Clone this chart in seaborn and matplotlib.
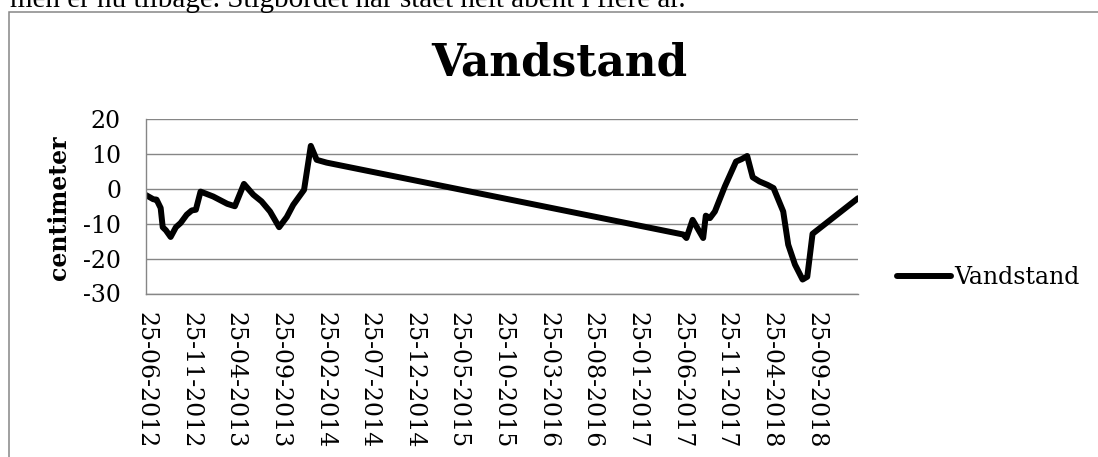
import matplotlib
matplotlib.use("Agg")
import matplotlib.pyplot as plt
from matplotlib.patches import Rectangle
import seaborn as sns
import pandas as pd

# Water level readings (cm)
dates = [
    '25-06-2012', '20-07-2012', '31-07-2012', '14-08-2012', '21-08-2012',
    '01-09-2012', '17-09-2012', '05-10-2012', '21-10-2012', '11-11-2012',
    '28-11-2012', '12-12-2012', '28-12-2012', '09-02-2013', '29-03-2013',
    '24-04-2013', '25-05-2013', '26-06-2013', '24-07-2013', '22-08-2013',
    '22-09-2013', '18-10-2013', '09-11-2013', '16-12-2013', '08-01-2014',
    '28-01-2014', '03-03-2014', '01-07-2017', '12-07-2017', '02-08-2017',
    '07-09-2017', '16-09-2017', '30-09-2017', '17-10-2017', '20-11-2017',
    '28-12-2017', '16-01-2018', '04-02-2018', '23-02-2018', '18-03-2018',
    '15-04-2018', '05-05-2018', '07-06-2018', '24-06-2018', '17-07-2018',
    '12-08-2018', '28-08-2018', '15-09-2018', '17-02-2019',
]
levels = [
    -1.8, -3.0, -3.1, -5.5, -11.0,
    -11.9, -13.8, -11.0, -9.8, -7.4,
    -6.2, -6.0, -0.8, -2.2, -4.3,
    -5.0, 1.4, -1.7, -3.6, -6.5,
    -11.0, -8.1, -4.6, -0.3, 12.3,
    8.3, 7.5, -13.1, -14.1, -8.9,
    -14.1, -7.7, -8.4, -6.5, 0.7,
    7.8, 8.5, 9.4, 3.3, 2.1,
    1.1, 0.2, -6.5, -16.0, -21.7,
    -26.0, -25.2, -12.9, -2.7,
]
tick_labels = [
    '25-06-2012', '25-11-2012', '25-04-2013', '25-09-2013', '25-02-2014',
    '25-07-2014', '25-12-2014', '25-05-2015', '25-10-2015', '25-03-2016',
    '25-08-2016', '25-01-2017', '25-06-2017', '25-11-2017', '25-04-2018',
    '25-09-2018',
]
y_ticks = [-30, -20, -10, 0, 10, 20]

df = pd.DataFrame({
    'Dato': pd.to_datetime(dates, format='%d-%m-%Y'),
    'Vandstand': levels,
})
tick_dates = pd.to_datetime(tick_labels, format='%d-%m-%Y')

sns.set_theme(style="white")
plt.rcParams['font.family'] = ['DejaVu Serif']
plt.rcParams['text.color'] = 'black'
plt.rcParams['axes.labelcolor'] = 'black'
plt.rcParams['xtick.color'] = 'black'
plt.rcParams['ytick.color'] = 'black'

W, H = 1098, 457
fig = plt.figure(figsize=(W / 100, H / 100), dpi=100)
ax = fig.add_axes([146 / W, 1 - 293.5 / H, 712 / W, 174.5 / H])

grey = '#868686'
sns.lineplot(data=df, x='Dato', y='Vandstand', ax=ax, color='black',
             linewidth=4.3, label='Vandstand', solid_joinstyle='round',
             solid_capstyle='round')

ax.set_ylim(-30, 20)
ax.set_yticks(y_ticks)
ax.set_yticklabels([str(v) for v in y_ticks])
ax.set_xlim(df['Dato'].iloc[0], df['Dato'].iloc[-1])
ax.set_xticks(tick_dates)
ax.set_xticklabels(tick_labels, rotation=270)
ax.tick_params(axis='x', length=0, pad=13, labelsize=17, labelcolor='black')
ax.tick_params(axis='y', length=0, pad=18, labelsize=17, labelcolor='black')
ax.set_xlabel('')
ax.set_ylabel('')
ax.grid(axis='y', color=grey, linewidth=1.0)
ax.set_axisbelow(True)
for side in ['top', 'right']:
    ax.spines[side].set_visible(False)
for side in ['left', 'bottom']:
    ax.spines[side].set_color(grey)
    ax.spines[side].set_linewidth(1.0)

leg = ax.legend(loc='center left', bbox_to_anchor=(897 / W, 1 - 278 / H),
                bbox_transform=fig.transFigure, frameon=False, fontsize=17,
                handlelength=2.3, handletextpad=0.12, borderpad=0,
                borderaxespad=0)
for t in leg.get_texts():
    t.set_color('black')

fig.text(559 / W, 1 - 75 / H, 'Vandstand', ha='center', va='baseline',
         fontsize=31.5, fontweight='bold', color='black')
fig.text(59 / W, 1 - 208 / H, 'centimeter', ha='center', va='center',
         rotation=90, fontsize=17, fontweight='bold', color='black')

# surrounding document text, cut off at the top
fig.text(10 / W, 1 - 6.7 / H,
         'men er nu tilbage. Stigbordet har stået helt åbent i flere år.',
         ha='left', va='baseline', fontsize=21, family='Liberation Serif',
         color='black')

# chart frame
fig.add_artist(Rectangle((8.5 / W, -0.2), 1.2, 1.2 - 11.5 / H,
                         transform=fig.transFigure, fill=False,
                         edgecolor=grey, linewidth=1.1))

fig.savefig('out.png', dpi=100)
